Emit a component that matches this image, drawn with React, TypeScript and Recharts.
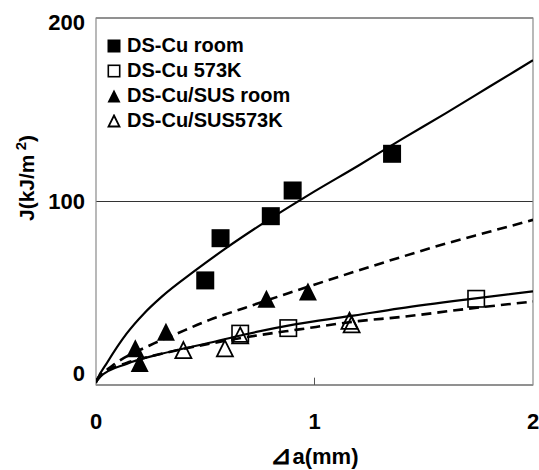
import {
  CartesianGrid,
  ComposedChart,
  Line,
  ReferenceArea,
  ReferenceLine,
  Scatter,
  XAxis,
  YAxis,
} from "recharts";

const FONT = '"Liberation Sans", Arial, sans-serif';

// measured points (Δa mm, J kJ/m²)
const dsCuRoom = [
  { x: 0.5, y: 57 },
  { x: 0.57, y: 80 },
  { x: 0.8, y: 92 },
  { x: 0.9, y: 106 },
  { x: 1.355, y: 126 },
];
const dsCu573 = [
  { x: 0.66, y: 28 },
  { x: 0.88, y: 31 },
  { x: 1.74, y: 47 },
];
const susRoom = [
  { x: 0.18, y: 20 },
  { x: 0.2, y: 12 },
  { x: 0.32, y: 29 },
  { x: 0.78, y: 47 },
  { x: 0.97, y: 51 },
];
const sus573 = [
  { x: 0.4, y: 19 },
  { x: 0.59, y: 20 },
  { x: 0.66, y: 27 },
  { x: 1.16, y: 35 },
  { x: 1.17, y: 33 },
];

// fitted curves
const cuRoomCurve = [
  { x: 0, y: 1 }, { x: 0.006, y: 3 }, { x: 0.05, y: 12 }, { x: 0.14, y: 28 },
  { x: 0.22, y: 39 }, { x: 0.3, y: 48 }, { x: 0.45, y: 62 }, { x: 0.6, y: 75 },
  { x: 0.75, y: 87 }, { x: 0.91, y: 99 }, { x: 1.0, y: 105.5 }, { x: 1.2, y: 119.5 },
  { x: 1.4, y: 134 }, { x: 1.6, y: 148 }, { x: 1.8, y: 162.5 }, { x: 2.0, y: 177 },
];
const susRoomCurve = [
  { x: 0, y: 2 }, { x: 0.02, y: 5 }, { x: 0.08, y: 11 }, { x: 0.25, y: 21.8 },
  { x: 0.37, y: 28 }, { x: 0.52, y: 35.5 }, { x: 0.68, y: 42 }, { x: 0.88, y: 50 },
  { x: 1.19, y: 62 }, { x: 1.39, y: 69.5 }, { x: 1.6, y: 77 }, { x: 1.8, y: 83.5 },
  { x: 2.0, y: 90 },
];
const cu573Curve = [
  { x: 0, y: 1.5 }, { x: 0.02, y: 4.5 }, { x: 0.14, y: 11.5 }, { x: 0.3, y: 17 },
  { x: 0.52, y: 23 }, { x: 0.68, y: 27.5 }, { x: 0.91, y: 33 }, { x: 1.16, y: 37.5 },
  { x: 1.39, y: 41.8 }, { x: 1.7, y: 46.7 }, { x: 2.0, y: 51 },
];
const sus573Curve = [
  { x: 0, y: 2 }, { x: 0.02, y: 5.5 }, { x: 0.14, y: 12 }, { x: 0.3, y: 17 },
  { x: 0.52, y: 22.5 }, { x: 0.7, y: 26.3 }, { x: 0.93, y: 30.3 }, { x: 1.2, y: 34.8 },
  { x: 1.39, y: 37 }, { x: 1.7, y: 41.5 }, { x: 2.0, y: 45.5 },
];

const xTicks = [0, 1, 2];
const yTicks = [0, 100, 200];
const legendNames = ["DS-Cu room", "DS-Cu 573K", "DS-Cu/SUS room", "DS-Cu/SUS573K"];

type Kind = "sq" | "osq" | "tri" | "otri";

function Marker({ kind, cx, cy, s }: { kind: Kind; cx: number; cy: number; s: number }) {
  const h = s / 2;
  if (kind === "sq") return <rect x={cx - h} y={cy - h} width={s} height={s} fill="#000" />;
  if (kind === "osq")
    return <rect x={cx - h + 0.8} y={cy - h + 0.8} width={s - 1.6} height={s - 1.6} fill="none" stroke="#000" strokeWidth={1.6} />;
  const pts = `${cx},${cy - h} ${cx + h},${cy + h} ${cx - h},${cy + h}`;
  if (kind === "tri") return <polygon points={pts} fill="#000" />;
  const i = h - 1;
  return <polygon points={`${cx},${cy - i} ${cx + i},${cy + i} ${cx - i},${cy + i}`} fill="none" stroke="#000" strokeWidth={1.8} />;
}

const shape = (kind: Kind) => (p: any) => <Marker kind={kind} cx={p.cx} cy={p.cy} s={18} />;

const kinds: Kind[] = ["sq", "osq", "tri", "otri"];

function LegendBox() {
  return (
    <div
      style={{
        position: "absolute",
        left: 107,
        top: 33,
        fontFamily: FONT,
        fontWeight: "bold",
        fontSize: 20,
        lineHeight: "25px",
        color: "#000",
      }}
    >
      {legendNames.map((n, i) => (
        <div key={n} style={{ display: "flex", alignItems: "center", whiteSpace: "nowrap" }}>
          <svg width={18} height={14} style={{ marginRight: 2 }}>
            <Marker kind={kinds[i]} cx={7} cy={7} s={13} />
          </svg>
          {n}
        </div>
      ))}
    </div>
  );
}

const yOffset: Record<number, number> = { 200: 4, 100: 0, 0: -12 };

function YTick({ x, y, payload }: any) {
  return (
    <text x={x} y={y + (yOffset[payload.value] ?? 0)} dy="0.36em" textAnchor="end" fontFamily={FONT} fontWeight="bold" fontSize={22} fill="#000">
      {payload.value}
    </text>
  );
}

function XTitle({ viewBox }: any) {
  const cx = viewBox.x + viewBox.width / 2;
  return (
    <text x={cx} y={464} textAnchor="middle" fontFamily={FONT} fontWeight="bold" fontSize={22} fill="#000">
      <tspan fontSize={26}>⊿</tspan>a(mm)
    </text>
  );
}

function YTitle() {
  const cx = 34;
  const cy = 178;
  return (
    <text x={cx} y={cy} transform={`rotate(-90, ${cx}, ${cy})`} textAnchor="middle" fontFamily={FONT} fontWeight="bold" fontSize={21} fill="#000">
      J(kJ/m
      <tspan dy={-8} fontSize={15}> 2</tspan>
      <tspan dy={8}>)</tspan>
    </text>
  );
}

export default function App() {
  return (
    <div style={{ position: "absolute", left: 0, top: 0, width: 539, height: 470, background: "#fff" }}>
      <ComposedChart width={539} height={470} margin={{ top: 18, right: 6, bottom: 0, left: 0 }}>
        <CartesianGrid vertical={false} stroke="#333" strokeWidth={1} />
        <XAxis
          type="number"
          dataKey="x"
          domain={[0, 2]}
          ticks={xTicks}
          allowDataOverflow
          height={85}
          axisLine={false}
          tickLine={false}
          tickSize={0}
          tickMargin={28}
          tick={{ fontFamily: FONT, fontWeight: "bold", fontSize: 22, fill: "#000" }}
          label={<XTitle />}
        />
        <YAxis
          type="number"
          dataKey="y"
          domain={[0, 200]}
          ticks={yTicks}
          allowDataOverflow
          width={96}
          axisLine={false}
          tickLine={false}
          tickSize={0}
          tickMargin={11}
          tick={<YTick />}
          label={<YTitle />}
        />
        <ReferenceArea x1={0} x2={2} y1={0} y2={200} fill="none" stroke="#8a8a8a" strokeWidth={1.2} />
        <ReferenceLine segment={[{ x: 1, y: 0 }, { x: 1, y: 4 }]} stroke="#555" />
        <Line data={cuRoomCurve} dataKey="y" type="monotone" stroke="#000" strokeWidth={2.2} dot={false} isAnimationActive={false} />
        <Line data={susRoomCurve} dataKey="y" type="monotone" stroke="#000" strokeWidth={2.6} strokeDasharray="10 6" dot={false} isAnimationActive={false} />
        <Line data={cu573Curve} dataKey="y" type="monotone" stroke="#000" strokeWidth={2.2} dot={false} isAnimationActive={false} />
        <Line data={sus573Curve} dataKey="y" type="monotone" stroke="#000" strokeWidth={2.6} strokeDasharray="10 6" dot={false} isAnimationActive={false} />
        <Scatter data={dsCuRoom} shape={shape("sq")} isAnimationActive={false} />
        <Scatter data={dsCu573} shape={shape("osq")} isAnimationActive={false} />
        <Scatter data={susRoom} shape={shape("tri")} isAnimationActive={false} />
        <Scatter data={sus573} shape={shape("otri")} isAnimationActive={false} />
      </ComposedChart>
      <LegendBox />
    </div>
  );
}
